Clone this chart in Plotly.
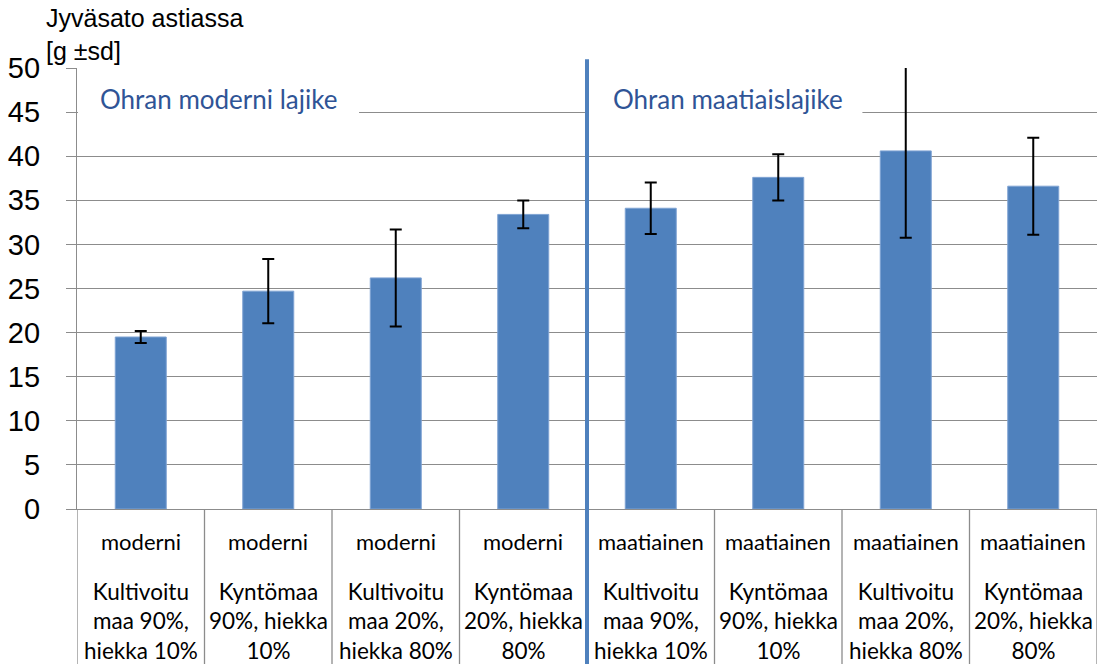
import plotly.graph_objects as go

# ---- data ----
groups = ["moderni"] * 4 + ["maatiainen"] * 4
soil_lines = [
    ["Kultivoitu", "maa 90%,", "hiekka 10%"],
    ["Kyntömaa", "90%, hiekka", "10%"],
    ["Kultivoitu", "maa 20%,", "hiekka 80%"],
    ["Kyntömaa", "20%, hiekka", "80%"],
] * 2
yield_g = [19.5, 24.7, 26.2, 33.4, 34.1, 37.6, 40.6, 36.6]
sd_g = [0.68, 3.65, 5.5, 1.58, 2.92, 2.62, 9.85, 5.5]
y_ticks = [0, 5, 10, 15, 20, 25, 30, 35, 40, 45, 50]
y_title = "Jyväsato astiassa<br>[g ±sd]"
group_titles = ["Ohran moderni lajike", "Ohran maatiaislajike"]

categories = [f"{g} – {' '.join(s)}" for g, s in zip(groups, soil_lines)]

BLUE = "#4F81BD"
GRID = "#8C8C8C"
TXT_FONT = "Lato"
AX_FONT = "Liberation Sans, Arial"

fig = go.Figure()
fig.add_trace(go.Bar(
    x=categories, y=yield_g, width=0.4,
    marker=dict(color=BLUE, line=dict(color="#7FA3D3", width=1)),
    error_y=dict(type="data", array=sd_g, visible=True, color="black",
                 thickness=2, width=6),
))

fig.update_layout(
    width=1100, height=664,
    margin=dict(l=77, r=3, t=68, b=155, autoexpand=False),
    paper_bgcolor="white", plot_bgcolor="white",
    showlegend=False,
    xaxis=dict(type="category", range=[-0.5, 7.5], showticklabels=False,
               showgrid=False, showline=True, linecolor=GRID, linewidth=1.3,
               ticks="", zeroline=False, automargin=False),
    yaxis=dict(range=[0, 50], tickvals=y_ticks, showgrid=True, gridcolor=GRID,
               gridwidth=1.3, showline=True, linecolor=GRID, linewidth=1.3,
               ticks="outside", ticklen=10, tickcolor=GRID, tickwidth=1.3,
               ticklabelstandoff=20, zeroline=False, automargin=False,
               tickfont=dict(family=AX_FONT, size=29, color="black")),
)

# table grid lines below the axis
n = len(categories)
for i in range(n + 1):
    fig.add_shape(type="line", xref="x", yref="paper",
                  x0=i - 0.5, x1=i - 0.5, y0=0, y1=-0.4,
                  line=dict(color=GRID, width=1.3), layer="above")

# white boxes behind the group titles (hide the 45 grid line)
fig.add_shape(type="rect", xref="paper", yref="y", x0=0.001, x1=0.2765,
              y0=43.2, y1=49.2, fillcolor="white", line=dict(width=0),
              layer="above")
fig.add_shape(type="rect", xref="x", yref="y", x0=3.5, x1=5.66,
              y0=43.2, y1=49.2, fillcolor="white", line=dict(width=0),
              layer="above")

# vertical separator between the two groups
fig.add_shape(type="line", xref="x", yref="paper", x0=3.5, x1=3.5,
              y0=1.02, y1=-0.4, line=dict(color=BLUE, width=4), layer="above")

# group titles
fig.add_annotation(xref="paper", yref="y", x=0.0206, y=46.5, xanchor="left",
                   yanchor="middle", text=group_titles[0], showarrow=False,
                   font=dict(family=TXT_FONT, size=26, color="#2F5496"))
fig.add_annotation(xref="x", yref="y", x=3.5, xshift=24, y=46.5,
                   xanchor="left", yanchor="middle", text=group_titles[1],
                   showarrow=False,
                   font=dict(family=TXT_FONT, size=26, color="#2F5496"))

# y-axis title
fig.add_annotation(xref="paper", yref="paper", x=-0.0325, y=1.15,
                   xanchor="left", yanchor="top", align="left", text=y_title,
                   showarrow=False,
                   font=dict(family=AX_FONT, size=25, color="black"))

# category table labels
for cat, g, s in zip(categories, groups, soil_lines):
    fig.add_annotation(xref="x", yref="paper", x=cat, y=(509.4 - 542) / 441,
                       yanchor="middle", text=g, showarrow=False,
                       font=dict(family=TXT_FONT, size=22, color="black"))
    fig.add_annotation(xref="x", yref="paper", x=cat, y=(509.4 - 621.5) / 441,
                       yanchor="middle", text="<br>".join(s), showarrow=False,
                       font=dict(family=TXT_FONT, size=22.5, color="black"))

fig.write_html("out.html",
               config={"displayModeBar": False},
               post_script="document.body.style.margin='0px';"
                           "document.body.style.overflow='hidden';")
